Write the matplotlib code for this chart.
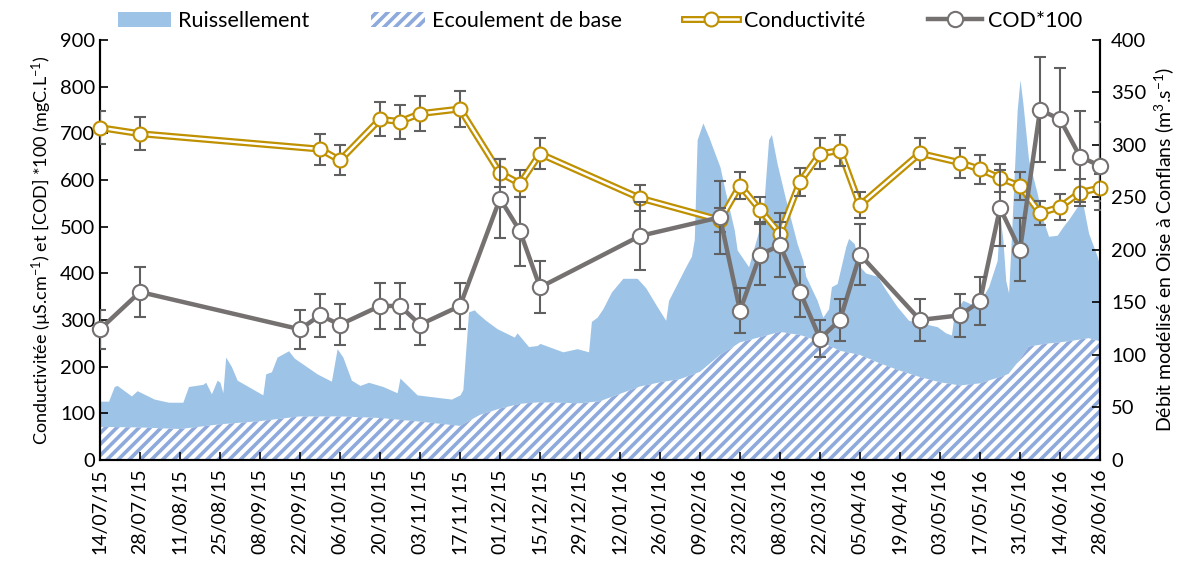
import matplotlib
matplotlib.use("Agg")
import matplotlib.pyplot as plt
import matplotlib.dates as mdates
from matplotlib.lines import Line2D
from matplotlib.patches import Patch
import pandas as pd

plt.rcParams['font.family'] = ['Lato', 'DejaVu Sans']
plt.rcParams['mathtext.fontset'] = 'custom'
plt.rcParams['mathtext.rm'] = 'Lato'
plt.rcParams['mathtext.it'] = 'Lato:italic'
plt.rcParams['mathtext.bf'] = 'Lato:bold'
plt.rcParams['hatch.linewidth'] = 2.6

# --- data ---
cond_dates = ["2015-07-14", "2015-07-28", "2015-09-29", "2015-10-06", "2015-10-20",
              "2015-10-27", "2015-11-03", "2015-11-17", "2015-12-01", "2015-12-08",
              "2015-12-15", "2016-01-19", "2016-02-16", "2016-02-23", "2016-03-01",
              "2016-03-08", "2016-03-15", "2016-03-22", "2016-03-29", "2016-04-05",
              "2016-04-26", "2016-05-10", "2016-05-17", "2016-05-24", "2016-05-31",
              "2016-06-07", "2016-06-14", "2016-06-21", "2016-06-28"]
cond_values = [712, 699, 666, 642, 730, 725, 742, 752, 615, 592,
               656, 561, 514, 588, 536, 485, 596, 656, 663, 546,
               657, 637, 623, 604, 587, 529, 542, 573, 583]
cond_err_pct = 5

cod_dates = ["2015-07-14", "2015-07-28", "2015-09-22", "2015-09-29", "2015-10-06",
             "2015-10-20", "2015-10-27", "2015-11-03", "2015-11-17", "2015-12-01",
             "2015-12-08", "2015-12-15", "2016-01-19", "2016-02-16", "2016-02-23",
             "2016-03-01", "2016-03-08", "2016-03-15", "2016-03-22", "2016-03-29",
             "2016-04-05", "2016-04-26", "2016-05-10", "2016-05-17", "2016-05-24",
             "2016-05-31", "2016-06-07", "2016-06-14", "2016-06-21", "2016-06-28"]
cod_values = [280, 360, 280, 310, 290, 330, 330, 290, 330, 560,
              490, 370, 480, 520, 320, 440, 460, 360, 260, 300,
              440, 300, 310, 340, 540, 450, 750, 730, 650, 630]
cod_err_pct = 15

# total modelled discharge (top of the runoff area), m3/s
total_dates = ["2015-07-14", "2015-07-17", "2015-07-19", "2015-07-20", "2015-07-25",
               "2015-07-27", "2015-08-02", "2015-08-07", "2015-08-12", "2015-08-14",
               "2015-08-19", "2015-08-20", "2015-08-22", "2015-08-24", "2015-08-25",
               "2015-08-26", "2015-08-27", "2015-08-29", "2015-08-31", "2015-09-09",
               "2015-09-10", "2015-09-12", "2015-09-14", "2015-09-18", "2015-09-20",
               "2015-09-28", "2015-10-03", "2015-10-05", "2015-10-07", "2015-10-10",
               "2015-10-13", "2015-10-16", "2015-10-21", "2015-10-26", "2015-10-27",
               "2015-10-30", "2015-11-02", "2015-11-14", "2015-11-17", "2015-11-18",
               "2015-11-20", "2015-11-22", "2015-11-23", "2015-11-26", "2015-11-30",
               "2015-12-06", "2015-12-07", "2015-12-11", "2015-12-14", "2015-12-15",
               "2015-12-23", "2015-12-28", "2016-01-01", "2016-01-02", "2016-01-04",
               "2016-01-06", "2016-01-09", "2016-01-13", "2016-01-18", "2016-01-21",
               "2016-01-25", "2016-01-28", "2016-01-29", "2016-02-01", "2016-02-04",
               "2016-02-06", "2016-02-07", "2016-02-08", "2016-02-10", "2016-02-12",
               "2016-02-16", "2016-02-18", "2016-02-21", "2016-02-22", "2016-02-26",
               "2016-03-02", "2016-03-04", "2016-03-05", "2016-03-07", "2016-03-10",
               "2016-03-14", "2016-03-16", "2016-03-17", "2016-03-21", "2016-03-23",
               "2016-03-25", "2016-03-26", "2016-03-28", "2016-03-31", "2016-04-01",
               "2016-04-03", "2016-04-05", "2016-04-07", "2016-04-11", "2016-04-14",
               "2016-04-18", "2016-04-22", "2016-04-27", "2016-05-02", "2016-05-05",
               "2016-05-07", "2016-05-08", "2016-05-11", "2016-05-16", "2016-05-20",
               "2016-05-23", "2016-05-24", "2016-05-25", "2016-05-26", "2016-05-27",
               "2016-05-28", "2016-05-30", "2016-05-31", "2016-06-01", "2016-06-03",
               "2016-06-06", "2016-06-08", "2016-06-10", "2016-06-13", "2016-06-15",
               "2016-06-17", "2016-06-20", "2016-06-22", "2016-06-24", "2016-06-27",
               "2016-06-28"]
total_flow = [56, 56, 70, 71, 61, 66, 58, 55, 55, 70,
              72, 74, 63, 76, 74, 64, 98, 89, 76, 62,
              82, 84, 98, 104, 97, 82, 75, 106, 98, 76,
              71, 74, 70, 64, 78, 70, 62, 58, 62, 67,
              141, 143, 140, 133, 125, 117, 121, 108, 109, 111,
              103, 106, 103, 132, 136, 144, 160, 173, 173, 164,
              146, 133, 152, 168, 184, 194, 210, 305, 321, 308,
              279, 254, 219, 200, 184, 232, 305, 310, 282, 248,
              206, 190, 175, 152, 136, 144, 165, 168, 203, 211,
              206, 184, 178, 175, 162, 146, 133, 130, 127, 121,
              119, 140, 152, 146, 165, 190, 232, 210, 171, 159,
              213, 333, 362, 340, 286, 254, 229, 213, 214, 222,
              229, 241, 244, 216, 194, 184]

# base flow (hatched area), m3/s
base_dates = ["2015-07-14", "2015-07-28", "2015-08-11", "2015-08-25", "2015-09-08",
              "2015-09-22", "2015-10-06", "2015-10-20", "2015-11-03", "2015-11-17",
              "2015-11-24", "2015-12-01", "2015-12-08", "2015-12-15", "2015-12-29",
              "2016-01-05", "2016-01-12", "2016-01-19", "2016-01-26", "2016-02-02",
              "2016-02-09", "2016-02-16", "2016-02-23", "2016-03-01", "2016-03-08",
              "2016-03-15", "2016-03-22", "2016-03-29", "2016-04-05", "2016-04-12",
              "2016-04-19", "2016-04-26", "2016-05-03", "2016-05-10", "2016-05-17",
              "2016-05-24", "2016-05-27", "2016-05-31", "2016-06-03", "2016-06-10",
              "2016-06-17", "2016-06-24", "2016-06-28"]
base_flow = [31.5, 31, 29.5, 34, 37, 41.5, 41.5, 40, 36.5, 32.5,
             43, 49, 53.5, 55, 54, 56, 63, 70, 74, 77,
             84, 100, 112, 117, 122, 119, 113, 104, 100, 92,
             85, 79, 74, 71, 73, 79, 82, 96, 108, 111,
             113, 116, 113]

# --- figure ---
cond_x = pd.to_datetime(cond_dates)
cod_x = pd.to_datetime(cod_dates)
total_x = pd.to_datetime(total_dates)
base_x = pd.to_datetime(base_dates)

fig = plt.figure(figsize=(11.86, 5.70), dpi=100)
ax = fig.add_axes([0.0843, 0.193, 0.8432, 0.737])
ax2 = ax.twinx()
ax.set_zorder(ax2.get_zorder() + 1)
ax.patch.set_visible(False)

blue = '#9DC3E6'
hatch_col = '#8EA9DB'
gold = '#BF9000'
grey = '#767171'
err_col = '#606060'

ax2.fill_between(total_x, 0, total_flow, color=blue, lw=0)
ax2.fill_between(base_x, 0, base_flow, facecolor='white', edgecolor=hatch_col,
                 hatch='///', lw=0)

cond_err = [v * cond_err_pct / 100 for v in cond_values]
cod_err = [v * cod_err_pct / 100 for v in cod_values]

ax.plot(cond_x, cond_values, color=gold, lw=5, zorder=3, solid_joinstyle='miter')
ax.plot(cond_x, cond_values, color='white', lw=1.8, zorder=3.1)
ax.errorbar(cond_x, cond_values, yerr=cond_err, fmt='none', ecolor=err_col,
            elinewidth=1.5, capsize=4, capthick=1.5, zorder=3.2)
ax.plot(cond_x, cond_values, ls='none', marker='o', ms=10, mfc='white',
        mec=gold, mew=1.5, zorder=3.3, clip_on=False)

ax.plot(cod_x, cod_values, color=grey, lw=3.2, zorder=4)
ax.errorbar(cod_x, cod_values, yerr=cod_err, fmt='none', ecolor=err_col,
            elinewidth=1.5, capsize=4, capthick=1.5, zorder=4.1)
ax.plot(cod_x, cod_values, ls='none', marker='o', ms=11, mfc='white',
        mec=grey, mew=1.5, zorder=4.2, clip_on=False)

start = pd.Timestamp("2015-07-14")
end = pd.Timestamp("2016-06-28")
ax.set_xlim(start, end)
ax.set_ylim(0, 900)
ax2.set_ylim(0, 400)
ax.set_yticks(range(0, 901, 100))
ax2.set_yticks(range(0, 401, 50))
ax.set_xticks(pd.date_range(start, end, freq='14D'))
ax.xaxis.set_major_formatter(mdates.DateFormatter('%d/%m/%y'))

for a in (ax, ax2):
    a.spines['top'].set_visible(False)
    for s in ('left', 'right', 'bottom'):
        a.spines[s].set_linewidth(1.5)
ax.tick_params(axis='x', direction='in', length=6, width=1.2, labelsize=14,
               labelrotation=90, pad=6)
ax.tick_params(axis='y', direction='in', length=6, width=1.2, labelsize=14.5)
ax2.tick_params(axis='y', direction='in', length=6, width=1.2, labelsize=14.5, pad=8)

ax.set_ylabel("Conductivitée (µS.cm$^{-1}$) et [COD] *100 (mgC.L$^{-1}$)",
              fontsize=13, labelpad=4)
ax2.set_ylabel("Débit modélisé en Oise à Conflans (m$^{3}$.s$^{-1}$)",
               fontsize=14, labelpad=4)

h_ruis = Patch(facecolor=blue, edgecolor='none')
h_base = Patch(facecolor='white', edgecolor=hatch_col, hatch='///', lw=0)
h_cond = (Line2D([], [], color=gold, lw=5),
          Line2D([], [], color='white', lw=1.8, marker='o', ms=10, mfc='white',
                 mec=gold, mew=1.5))
h_cod = Line2D([], [], color=grey, lw=3.2, marker='o', ms=11, mfc='white',
               mec=grey, mew=1.5)
fig.legend([h_ruis, h_base, h_cond, h_cod],
           ["Ruissellement", "Ecoulement de base", "Conductivité", "COD*100"],
           loc='upper center', bbox_to_anchor=(0.506, 1.015), ncol=4, frameon=False,
           fontsize=15.5, handlelength=2.5, handleheight=0.7, columnspacing=2.9,
           handletextpad=0.3)

fig.savefig("out.png", dpi=100)
